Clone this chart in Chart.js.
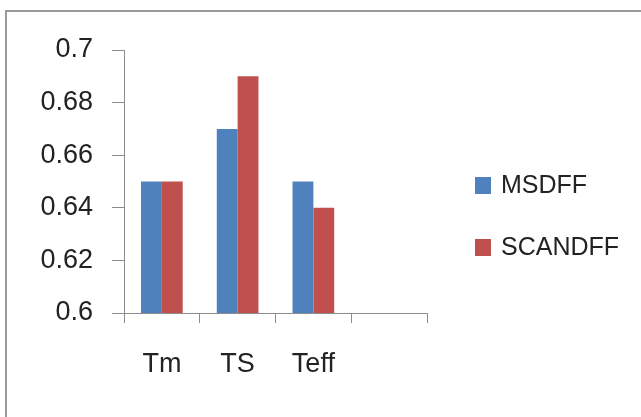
<!DOCTYPE html>
<html>
<head>
<meta charset="utf-8">
<script src="https://cdn.jsdelivr.net/npm/chart.js@4/dist/chart.umd.min.js"></script>
<style>
  html, body { margin: 0; padding: 0; background: #fff; }
  #wrap { width: 641px; height: 417px; position: relative; }
</style>
</head>
<body>
<div id="wrap"><canvas id="c" width="641" height="417"></canvas></div>
<script>
// Categories (the fourth slot is left empty) and series values
const categories = ['Tm', 'TS', 'Teff', ''];
const msdff = [0.65, 0.67, 0.65, null];
const scandff = [0.65, 0.69, 0.64, null];
const seriesNames = ['MSDFF', 'SCANDFF'];
const yTicks = [0.6, 0.62, 0.64, 0.66, 0.68, 0.7];

const FONT = '"Liberation Sans", Arial, sans-serif';
const AXIS = '#8c8c8c';
const TEXT = '#222';

// Outer frame and white background
const framePlugin = {
  id: 'frame',
  beforeDraw(chart) {
    const ctx = chart.ctx;
    ctx.save();
    ctx.fillStyle = '#fff';
    ctx.fillRect(0, 0, chart.width, chart.height);
    ctx.strokeStyle = '#9a9a9a';
    ctx.lineWidth = 2;
    ctx.beginPath();
    ctx.moveTo(6, chart.height);
    ctx.lineTo(6, 11);
    ctx.lineTo(chart.width, 11);
    ctx.stroke();
    ctx.restore();
  }
};

// Legend on the right: square swatch + series name
const sideLegend = {
  id: 'sideLegend',
  afterDraw(chart) {
    const ctx = chart.ctx;
    const rows = [185, 247];
    ctx.save();
    ctx.font = '25px ' + FONT;
    ctx.textBaseline = 'middle';
    ctx.textAlign = 'left';
    chart.data.datasets.forEach((ds, i) => {
      const y = rows[i];
      ctx.fillStyle = ds.backgroundColor;
      ctx.fillRect(475, y - 8, 16, 17);
      ctx.fillStyle = TEXT;
      ctx.fillText(ds.label, 501, y + 1);
    });
    ctx.restore();
  }
};

new Chart(document.getElementById('c'), {
  type: 'bar',
  data: {
    labels: categories,
    datasets: [
      { label: seriesNames[0], data: msdff, backgroundColor: '#4F81BD' },
      { label: seriesNames[1], data: scandff, backgroundColor: '#C0504D' }
    ]
  },
  options: {
    responsive: false,
    animation: false,
    devicePixelRatio: 1,
    layout: { padding: { left: 0, top: 50, right: 214, bottom: 44 } },
    plugins: {
      legend: { display: false },
      tooltip: { enabled: false }
    },
    datasets: {
      bar: { categoryPercentage: 0.55, barPercentage: 1.0, borderWidth: 0 }
    },
    scales: {
      x: {
        grid: { display: true, drawOnChartArea: false, drawTicks: true, tickLength: 10, color: AXIS, offset: true },
        border: { display: true, color: AXIS, width: 1 },
        ticks: { color: TEXT, font: { family: FONT, size: 27 }, padding: 25, maxRotation: 0 },
        afterFit(scale) { scale.height = 60; }
      },
      y: {
        min: 0.6,
        max: 0.7,
        afterBuildTicks(scale) { scale.ticks = yTicks.map(v => ({ value: v })); },
        grid: { display: true, drawOnChartArea: false, drawTicks: true, tickLength: 12, color: AXIS },
        border: { display: true, color: AXIS, width: 1 },
        ticks: {
          color: TEXT,
          font: { family: FONT, size: 27 },
          padding: 19,
          callback: (v) => String(Math.round(v * 100) / 100)
        },
        afterFit(scale) { scale.width = 124; }
      }
    }
  },
  plugins: [framePlugin, sideLegend]
});
</script>
</body>
</html>
